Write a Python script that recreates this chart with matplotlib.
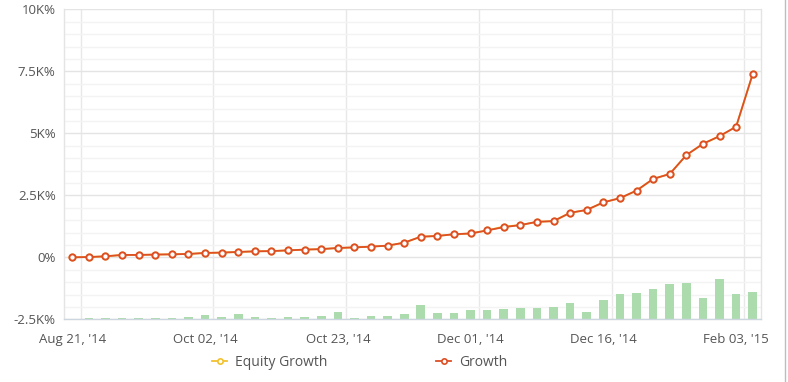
import matplotlib
matplotlib.use("Agg")
import matplotlib.pyplot as plt
from matplotlib.lines import Line2D
from matplotlib.ticker import FixedLocator, MultipleLocator

plt.rcParams['font.family'] = ['Open Sans', 'DejaVu Sans']

# ---- data ----
n_points = 42
tick_labels = ["Aug 21, '14", "Oct 02, '14", "Oct 23, '14", "Dec 01, '14", "Dec 16, '14", "Feb 03, '15"]
tick_positions = [0, 8, 16, 24, 32, 40]
grid_positions = [0.5, 8.5, 16.5, 24.5, 32.5, 40.5]

growth = [0, 10, 40, 95, 95, 110, 120, 135, 175, 190,
          215, 240, 250, 280, 310, 330, 375, 400, 430, 470,
          590, 830, 860, 930, 960, 1085, 1215, 1300, 1430, 1460,
          1795, 1910, 2215, 2385, 2690, 3160, 3360, 4120, 4575, 4885,
          5265, 7390]
equity_growth = [0, 10, 40, 95, 95, 110, 120, 135, 175, 190,
                 215, 240, 250, 280, 310, 330, 375, 400, 430, 470,
                 590, 830, 860, 930, 960, 1085, 1240, 1300, 1430, 1460,
                 1795, 1910, 2215, 2385, 2690, 3160, 3360, 4120, 4575, 4885,
                 5265, 7390]
bar_values = [0, 40, 40, 40, 40, 40, 40, 105, 160, 105,
              215, 105, 40, 105, 95, 145, 295, 40, 145, 145,
              200, 565, 255, 255, 355, 355, 410, 455, 455, 505,
              655, 295, 765, 1005, 1060, 1220, 1410, 1460, 860, 1610,
              1005, 1110]
bar_base = -2500

y_ticks = [-2500, 0, 2500, 5000, 7500, 10000]
y_labels = ["-2.5K%", "0%", "2.5K%", "5K%", "7.5K%", "10K%"]

# ---- figure ----
W, H = 788, 382
fig = plt.figure(figsize=(W / 100, H / 100), dpi=100)
fig.patch.set_facecolor("white")
ax = fig.add_axes([64 / W, 1 - 319.3 / H, (761 - 64) / W, (319.3 - 9.3) / H])

x = list(range(n_points))

ax.bar(x, bar_values, bottom=bar_base, width=0.52, color="#acdcad", zorder=2)

ax.plot(x, equity_growth, color="#f2c12e", lw=1.3, marker="o", ms=4.5,
        mfc="white", mec="#f2c12e", mew=1.2, zorder=3)
ax.plot(x, growth, color="#dd4f25", lw=1.3, marker="o", ms=4.5,
        mfc="white", mec="#dd4f25", mew=1.4, zorder=4)

ax.set_xlim(-0.5, n_points - 0.5)
ax.set_ylim(-2500, 10000)

ax.yaxis.set_major_locator(FixedLocator(y_ticks))
ax.set_yticklabels(y_labels)
ax.yaxis.set_minor_locator(MultipleLocator(500))
ax.set_xticks(tick_positions)
ax.set_xticklabels(tick_labels)
ax.set_xticks(grid_positions, minor=True)

ax.grid(True, which="major", axis="y", color="#e4e4e4", lw=1.0, zorder=0)
ax.grid(True, which="minor", axis="y", color="#f3f3f3", lw=1.0, zorder=0)
ax.grid(True, which="minor", axis="x", color="#e8e8e8", lw=1.0, zorder=0)
ax.grid(False, which="major", axis="x")
ax.set_axisbelow(True)

ax.tick_params(axis="both", which="both", length=0, labelsize=9.5, colors="#555555")
ax.tick_params(axis="y", pad=6)
ax.tick_params(axis="x", pad=10)

for side in ["left", "right"]:
    ax.spines[side].set_color("#e4e4e4")
    ax.spines[side].set_linewidth(1.0)
ax.spines["top"].set_visible(False)
ax.spines["bottom"].set_color("#ccd6e0")
ax.spines["bottom"].set_linewidth(1.0)

# legend (two entries placed to match the reference)
entries = [
    ("Equity Growth", "#f2c12e", 212),
    ("Growth", "#dd4f25", 436),
]
for label, color, left_px in entries:
    h = Line2D([], [], color=color, lw=1.3, marker="o", ms=3.8, mfc="white", mec=color, mew=1.2)
    leg = fig.legend([h], [label], loc="center left",
                     bbox_to_anchor=(left_px / W, 1 - 362 / H), frameon=False,
                     fontsize=10, handlelength=1.1, handletextpad=0.55,
                     borderpad=0, borderaxespad=0)
    for t in leg.get_texts():
        t.set_color("#555555")

# right border line of the image
fig.add_artist(Line2D([785 / W, 785 / W], [0, 1], color="#bdbdbd", lw=1.0))

fig.savefig("out.png", dpi=100, facecolor="white")
